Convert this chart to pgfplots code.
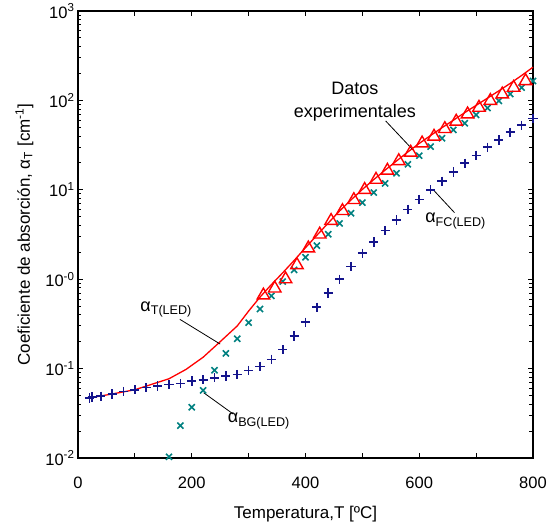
\documentclass[border=0pt]{standalone}
\usepackage{fontspec}
\setmainfont{Liberation Sans}
\usepackage{pgfplots}
\pgfplotsset{compat=1.18}
\definecolor{navyp}{RGB}{20,20,140}
\definecolor{tealx}{RGB}{0,128,128}
\begin{document}
\begin{tikzpicture}
\path[use as bounding box] (-78pt,-68pt) rectangle (472pt,458pt);
\begin{axis}[
  at={(0,0)}, anchor=south west,
  scale only axis, width=455pt, height=447pt,
  ymode=log,
  xmin=0, xmax=800, ymin=0.01, ymax=1000,
  clip=false,
  axis line style={line width=1.3pt},
  tick style={black, line width=0.9pt},
  major tick length=5pt, minor tick length=3.5pt,
  tick align=inside,
  xtick={0,100,...,800},
  xticklabels={0,,200,,400,,600,,800},
  ytick={0.01,0.1,1,10,100,1000},
  yticklabels={10\textsuperscript{-2},10\textsuperscript{-1},10\textsuperscript{-0},10\textsuperscript{1},10\textsuperscript{2},10\textsuperscript{3}},
  minor ytick={0.02,0.03,0.04,0.05,0.06,0.07,0.08,0.09,0.2,0.3,0.4,0.5,0.6,0.7,0.8,0.9,2,3,4,5,6,7,8,9,20,30,40,50,60,70,80,90,200,300,400,500,600,700,800,900},
  tick label style={font=\fontsize{16.5}{19}\selectfont},
  xticklabel style={yshift=-15pt},
  label style={font=\fontsize{17}{20}\selectfont},
  xlabel={Temperatura,T [ºC]},
  ylabel={Coeficiente de absorción, α\textsubscript{T} [cm\textsuperscript{-1}]},
  xlabel style={at={(axis description cs:0.5,-0.125)}, anchor=center},
  ylabel style={at={(axis description cs:-0.118,0.5)}, anchor=center, rotate=0},
]
% alpha T(LED) model line
\addplot[red, line width=1.3pt, mark=none] coordinates {
(20,0.047) (60,0.052) (100,0.058) (160,0.077) (190,0.098) (220,0.134) (250,0.2) (280,0.3) (300,0.44) (320,0.63) (340,0.87) (360,1.18) (380,1.62) (400,2.25) (420,3.1) (440,4.25) (460,5.8) (480,7.7) (500,10.1) (520,13.0) (540,16.6) (560,21) (580,26.5) (600,33) (620,40.5) (640,49.5) (660,60) (680,73) (700,88) (720,106) (740,128) (760,155) (780,190) (800,235)
};
% blue +
\addplot[only marks, mark=+, mark size=4.6pt, navyp, mark options={line width=1.6pt}] coordinates {
(20,0.047) (25,0.048) (40,0.049) (60,0.052) (80,0.0554) (100,0.058) (120,0.0615) (140,0.064) (160,0.0665) (180,0.068) (200,0.0725) (220,0.075) (240,0.079) (260,0.0825) (280,0.086) (300,0.0955) (320,0.106) (340,0.127) (360,0.163) (380,0.232) (400,0.33) (420,0.485) (440,0.70) (460,1.0) (480,1.39) (500,1.95) (520,2.6) (540,3.5) (560,4.6) (580,6.05) (600,7.8) (620,10.0) (640,12.5) (660,15.8) (680,19.8) (700,24.3) (720,29.9) (740,36) (760,44) (780,52.7) (800,63)
};
% teal x
\addplot[only marks, mark=x, mark size=4.3pt, tealx, mark options={line width=1.6pt}] coordinates {
(160,0.0103) (180,0.023) (200,0.037) (220,0.057) (240,0.096) (260,0.148) (280,0.216) (300,0.326) (320,0.464) (340,0.65) (360,0.94) (380,1.27) (400,1.76) (420,2.37) (440,3.18) (460,4.2) (480,5.46) (500,7.2) (520,9.3) (540,11.8) (560,15.3) (580,19.3) (600,24.1) (620,30.4) (640,37.7) (660,46.7) (680,55.4) (700,68.7) (720,82.3) (740,98.5) (760,118) (780,139) (800,165)
};
% red triangles (experimental data)
\addplot[only marks, mark=triangle, mark size=7.2pt, red, mark options={line width=1.4pt}] coordinates {
(326,0.66) (346,0.79) (365,1.0) (385,1.44) (405,2.22) (425,3.17) (445,4.5) (465,5.8) (485,7.7) (504,10.0) (524,13.0) (544,16.4) (564,21.0) (585,26.1) (605,33.1) (626,39.4) (645,48) (665,58) (685,70) (705,83) (725,99) (746,117) (766,139) (787,165)
};
% annotations
\node[align=center, font=\fontsize{18}{23}\selectfont] at (axis cs:487,96) {Datos\\experimentales};
\draw[black, line width=0.8pt] (axis cs:541,58.9) -- (axis cs:589,27.9);
\node[font=\fontsize{18}{21}\selectfont] at (axis cs:155,0.46) {α\textsubscript{T(LED)}};
\draw[black, line width=0.8pt] (axis cs:179,0.356) -- (axis cs:250,0.188);
\node[font=\fontsize{18}{21}\selectfont] at (axis cs:318,0.026) {α\textsubscript{BG(LED)}};
\draw[black, line width=0.8pt] (axis cs:221,0.0537) -- (axis cs:273,0.031);
\node[font=\fontsize{18}{21}\selectfont] at (axis cs:664,4.48) {α\textsubscript{FC(LED)}};
\draw[black, line width=0.8pt] (axis cs:624,10.1) -- (axis cs:662,5.55);
\end{axis}
\end{tikzpicture}
\end{document}
